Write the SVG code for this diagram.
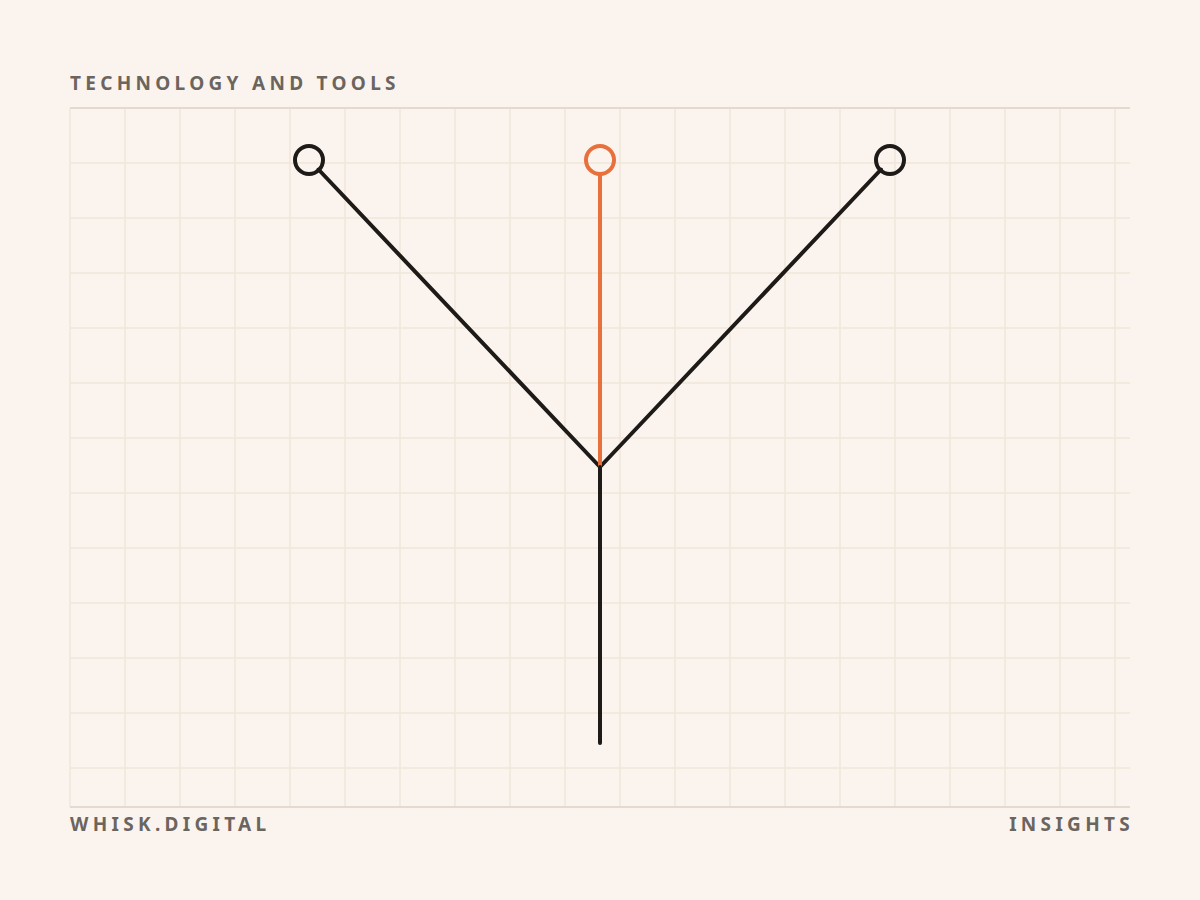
<svg xmlns="http://www.w3.org/2000/svg" width="1200" height="900" viewBox="0 0 1200 900">
<style>
.lbl{font-family:"Noto Sans","Liberation Sans",sans-serif;font-weight:700;font-size:19px;letter-spacing:4.3px;fill:#6b6560}
.grid{stroke:#f1e6da;stroke-width:1.5}
.border{stroke:#e5dad0;stroke-width:2}
.dark{stroke:#1e1a17;stroke-width:4;fill:none;stroke-linecap:round}
.accent{stroke:#e8703a;stroke-width:4;fill:none;stroke-linecap:round}
</style>
<rect width="1200" height="900" fill="#fbf4ee"/>
<g id="grid" class="grid">
<path d="M70 108V807M125 108V807M180 108V807M235 108V807M290 108V807M345 108V807M400 108V807M455 108V807M510 108V807M565 108V807M620 108V807M675 108V807M730 108V807M785 108V807M840 108V807M895 108V807M950 108V807M1005 108V807M1060 108V807M1115 108V807"/>
<path d="M70 163H1130M70 218H1130M70 273H1130M70 328H1130M70 383H1130M70 438H1130M70 493H1130M70 548H1130M70 603H1130M70 658H1130M70 713H1130M70 768H1130"/>
</g>
<g id="borders" class="border">
<path d="M70 108H1130M70 807H1130"/>
</g>
<text class="lbl" x="70" y="90">TECHNOLOGY AND TOOLS</text>
<text class="lbl" x="70" y="831">WHISK.DIGITAL</text>
<text class="lbl" x="1134" y="831" text-anchor="end">INSIGHTS</text>
<g id="connectors">
<path class="dark" d="M318.5 169.5L600 467"/>
<path class="dark" d="M881 169.5L600 467"/>
<path class="accent" d="M600 174V467"/>
<path class="dark" d="M600 467V743"/>
</g>
<g id="node-left"><circle class="dark" cx="309" cy="160" r="14"/></g>
<g id="node-center"><circle class="accent" cx="600" cy="160" r="14"/></g>
<g id="node-right"><circle class="dark" cx="890" cy="160" r="14"/></g>
</svg>
